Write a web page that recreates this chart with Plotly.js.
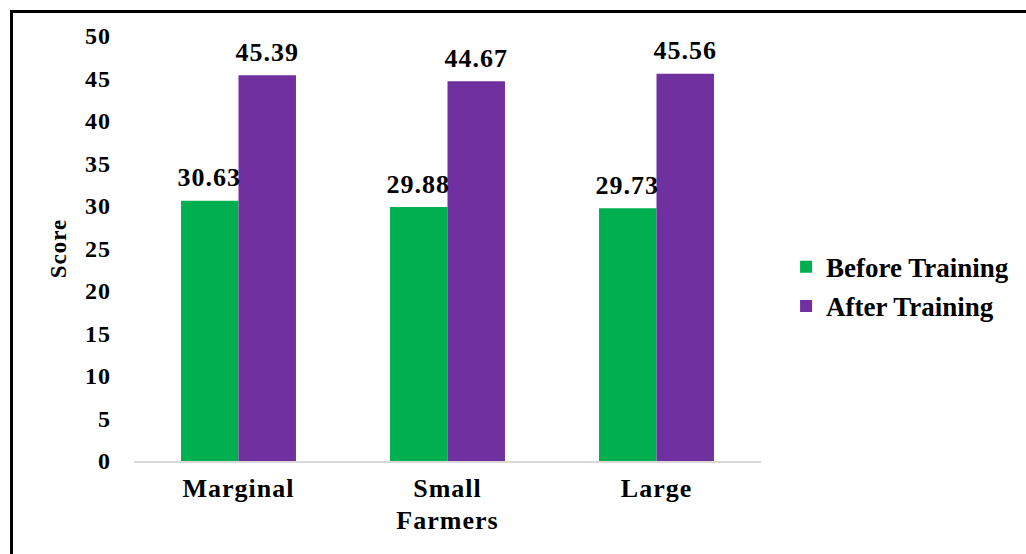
<!DOCTYPE html>
<html>
<head>
<meta charset="utf-8">
<script src="https://cdn.plot.ly/plotly-3.0.1.min.js"></script>
<style>
  html, body { margin: 0; padding: 0; background: #fff; overflow: hidden; }
  #wrap { position: relative; width: 1026px; height: 554px; }
  #chart { position: absolute; left: 0; top: 0; width: 1026px; height: 554px; }
  #chart svg text { letter-spacing: 1px; }
  #chart svg .legend text { letter-spacing: 0; }
  #frame {
    position: absolute; left: 10px; top: 10px; width: 1040px; height: 560px;
    border-left: 3px solid #000; border-top: 3px solid #000;
    pointer-events: none; box-sizing: border-box;
  }
</style>
</head>
<body>
<div id="wrap">
  <div id="chart"></div>
  <div id="frame"></div>
</div>
<script>
// Farm-size groups and training scores
const categories = ['Marginal', 'Small', 'Large'];
const beforeTraining = [30.63, 29.88, 29.73];
const afterTraining = [45.39, 44.67, 45.56];
const seriesNames = ['Before Training', 'After Training'];
const yTicks = [0, 5, 10, 15, 20, 25, 30, 35, 40, 45, 50];

const serif = 'Liberation Serif';
const GREEN = '#00B050';
const PURPLE = '#7030A0';

const bargap = 0.45;
const halfBar = (1 - bargap) / 4; // centre offset of each bar in a pair

const traces = [
  {
    type: 'bar', name: seriesNames[0], x: categories, y: beforeTraining,
    marker: { color: GREEN }, legendgroup: 'a', hoverinfo: 'x+y'
  },
  {
    type: 'bar', name: seriesNames[1], x: categories, y: afterTraining,
    marker: { color: PURPLE }, legendgroup: 'b', hoverinfo: 'x+y'
  }
];

const bold = (size) => ({ family: serif, size: size, color: '#000', weight: 'bold' });

// value labels above each bar
const annotations = [];
[beforeTraining, afterTraining].forEach((vals, s) => {
  vals.forEach((v, i) => {
    annotations.push({
      x: i + (s === 0 ? -halfBar : halfBar), y: v,
      xref: 'x', yref: 'y',
      text: v.toFixed(2), showarrow: false,
      yanchor: 'middle', yshift: 23,
      font: bold(26)
    });
  });
});

const layout = {
  width: 1026, height: 554,
  margin: { l: 134, r: 262, t: 36, b: 93 },
  paper_bgcolor: '#fff', plot_bgcolor: '#fff',
  barmode: 'group', bargap: bargap, bargroupgap: 0,
  showlegend: true,
  legend: {
    x: 1.04, xanchor: 'left', y: 0.41, yanchor: 'middle',
    font: bold(27), tracegroupgap: 1, itemwidth: 30
  },
  xaxis: {
    type: 'category',
    tickfont: bold(26),
    showline: true, linecolor: '#d9d9d9', linewidth: 2,
    ticks: '', showgrid: false, zeroline: false,
    ticklabelstandoff: 3,
    title: { text: 'Farmers', standoff: 9, font: bold(26) }
  },
  yaxis: {
    range: [0, 50], tickvals: yTicks,
    tickfont: bold(24),
    showline: false, showgrid: false, zeroline: false, ticks: '',
    ticklabelstandoff: 22,
    title: { text: 'Score', standoff: 13, font: bold(23) }
  },
  annotations: annotations
};

Plotly.newPlot('chart', traces, layout, { displayModeBar: false });
</script>
</body>
</html>
